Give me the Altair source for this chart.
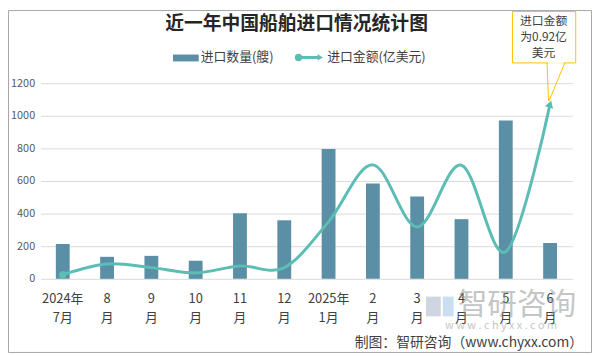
import altair as alt
import pandas as pd

# ---- data ----
months = ["2024年\n7月", "8\n月", "9\n月", "10\n月", "11\n月", "12\n月",
          "2025年\n1月", "2\n月", "3\n月", "4\n月", "5\n月", "6\n月"]
counts = [214, 135, 141, 111, 402, 359, 796, 584, 505, 366, 971, 220]          # 进口数量(艘)
amounts = [0.022, 0.078, 0.059, 0.031, 0.068, 0.059, 0.30, 0.60, 0.273, 0.598, 0.143, 0.92]  # 亿美元
y_ticks = [0, 200, 400, 600, 800, 1000, 1200]

title_text = ["近一年中国船舶进口情况统计图"]
legend_labels = ["进口数量(艘)", "进口金额(亿美元)"]
callout_lines = ["进口金额", "为0.92亿", "美元"]
footer_text = ["制图：智研咨询（www.chyxx.com）"]
wm_text = ["智研咨询"]
wm_url = ["w w w . c h y x x . c o m"]

FONT = "Noto Sans CJK SC"
BAR = "#5b8fa6"
LINE = "#5bbdb4"

df = pd.DataFrame({"month": months, "count": counts, "amount": amounts})
df["idx"] = range(len(df))

W, H = 538, 198

x_enc = alt.X("month:N", sort=months,
              scale=alt.Scale(paddingInner=0.6, paddingOuter=0.3),
              axis=alt.Axis(title=None, labelExpr="split(datum.label, '\\n')", labelAngle=0,
                            ticks=False, domain=False, labelFontSize=13, labelColor="#404040",
                            labelFont=FONT, labelPadding=14, labelLineHeight=19,
                            labelBaseline="top", grid=False))

base = alt.Chart(df)

bars = base.mark_bar(size=14, color=BAR).encode(
    x=x_enc,
    y=alt.Y("count:Q", scale=alt.Scale(domain=[0, 1200], nice=False),
            axis=alt.Axis(title=None, values=y_ticks, format="d", grid=True, gridColor="#d9d9d9",
                          domain=False, ticks=False, labelPadding=6, labelFontSize=11,
                          labelColor="#595959", labelFont=FONT)),
)

amt_scale = alt.Scale(domain=[0, 1.03], nice=False)

line = base.mark_line(color=LINE, strokeWidth=3, interpolate="cardinal").encode(
    x=alt.X("month:N", sort=months),
    y=alt.Y("amount:Q", scale=amt_scale, axis=None),
)
start_pt = base.transform_filter("datum.idx == 0").mark_point(
    shape="circle", filled=True, size=55, color=LINE, opacity=1).encode(
    x=alt.X("month:N", sort=months),
    y=alt.Y("amount:Q", scale=amt_scale, axis=None),
)
end_pt = base.transform_filter("datum.idx == 11").mark_point(
    shape="triangle-up", filled=True, size=75, angle=17, color=LINE, opacity=1).encode(
    x=alt.X("month:N", sort=months),
    y=alt.Y("amount:Q", scale=amt_scale, axis=None),
)
line_layer = alt.layer(line, start_pt, end_pt)

one = pd.DataFrame({"k": [0]})

def txt(values, x, y, size, color="#404040", align="left", weight="normal", opacity=1.0,
        baseline="middle"):
    d = pd.DataFrame({"t": values})
    return alt.Chart(d).mark_text(font=FONT, fontSize=size, color=color, align=align,
                                  baseline=baseline, fontWeight=weight, opacity=opacity
                                  ).encode(text="t:N", x=alt.value(x), y=alt.value(y))

# plot coords: page_x - 41, page_y - 82
title = txt(title_text, 259, -60, 19, color="#262626", align="center", weight="bold")

leg_rect = alt.Chart(one).mark_rect(color=BAR).encode(
    x=alt.value(134), x2=alt.value(160), y=alt.value(-29), y2=alt.value(-22))
leg_t1 = txt([legend_labels[0]], 162, -26, 13)
leg_line = alt.Chart(one).mark_rule(color=LINE, strokeWidth=3).encode(
    x=alt.value(261), x2=alt.value(281), y=alt.value(-26), y2=alt.value(-26))
leg_dot = alt.Chart(one).mark_point(shape="circle", filled=True, size=55, color=LINE, opacity=1).encode(
    x=alt.value(261), y=alt.value(-26))
leg_arrow = alt.Chart(one).mark_point(shape="triangle-right", filled=True, size=40, color=LINE, opacity=1).encode(
    x=alt.value(283), y=alt.value(-26))
leg_t2 = txt([legend_labels[1]], 290, -26, 13)

# callout box
box = alt.Chart(one).mark_rect(fill="white", stroke="#ffc000", strokeWidth=1).encode(
    x=alt.value(477.5), x2=alt.value(541.5), y=alt.value(-72.5), y2=alt.value(-20.5))
tail1 = alt.Chart(one).mark_rule(color="#ffc000", strokeWidth=1).encode(
    x=alt.value(512.5), x2=alt.value(514), y=alt.value(-20.5), y2=alt.value(18))
tail2 = alt.Chart(one).mark_rule(color="#ffc000", strokeWidth=1).encode(
    x=alt.value(530.5), x2=alt.value(514.5), y=alt.value(-20.5), y2=alt.value(18))
gap = alt.Chart(one).mark_rule(color="white", strokeWidth=1.5).encode(
    x=alt.value(513.5), x2=alt.value(529.5), y=alt.value(-20.5), y2=alt.value(-20.5))
box_txt = alt.layer(*[txt([callout_lines[i]], 509, -63 + 16.3 * i, 12, align="center")
                      for i in range(3)])

# watermark + footer
wm_icon1 = alt.Chart(one).mark_rect(color="#aab4c8", opacity=0.55).encode(
    x=alt.value(390), x2=alt.value(405), y=alt.value(216), y2=alt.value(236))
wm_icon2 = alt.Chart(one).mark_rect(color="#9cc3e6", opacity=0.55).encode(
    x=alt.value(407), x2=alt.value(418), y=alt.value(216), y2=alt.value(236))
wm1 = txt(wm_text, 482, 225, 30, color="#8c8c8c", align="center", opacity=0.5)
wm2 = txt(wm_url, 466, 246, 11, color="#8c8c8c", align="center", opacity=0.5)
footer = txt(footer_text, 549, 263, 14, color="#404040", align="right")

frame = alt.Chart(one).mark_rect(fillOpacity=0, stroke="#a6a6a6", strokeWidth=1).encode(
    x=alt.value(-32.5), x2=alt.value(557.5), y=alt.value(-73.5), y2=alt.value(272.5))

chart = alt.layer(
    frame, bars, line_layer, title, leg_rect, leg_t1, leg_line, leg_dot, leg_arrow, leg_t2,
    tail1, tail2, box, gap, box_txt, wm_icon1, wm_icon2, wm1, wm2, footer
).resolve_scale(y="independent").properties(
    width=W, height=H, autosize="none",
    padding={"left": 33, "top": 74, "right": 20, "bottom": 75},
    background="white",
).configure_view(stroke="transparent")

chart.save("out.html", embed_options={"renderer": "svg", "actions": False})
